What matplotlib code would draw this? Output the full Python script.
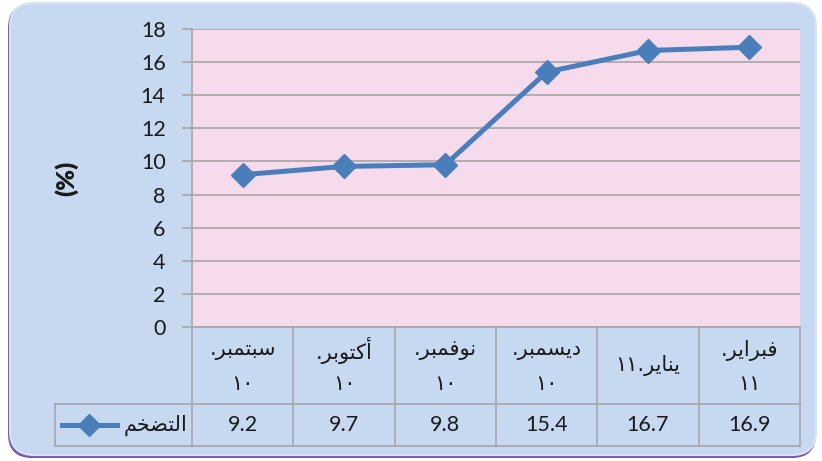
import matplotlib
matplotlib.use('Agg')
import matplotlib.pyplot as plt
from matplotlib.patches import FancyBboxPatch
from matplotlib.transforms import blended_transform_factory

# Arabic labels written in shaped presentation forms (visual order), since
# matplotlib does no Arabic shaping itself.
month_names = [
    "\uFEAE\uFE92\uFEE4\uFE98\uFE92\uFEB3",   # سبتمبر
    "\uFEAE\uFE91\uFEEE\uFE98\uFEDB\uFE83",   # أكتوبر
    "\uFEAE\uFE92\uFEE4\uFED3\uFEEE\uFEE7",   # نوفمبر
    "\uFEAE\uFE92\uFEE4\uFEB4\uFEF3\uFEA9",   # ديسمبر
    "\uFEAE\uFEF3\uFE8E\uFEE8\uFEF3",         # يناير
    "\uFEAE\uFEF3\uFE8D\uFEAE\uFE92\uFED3",   # فبراير
]
month_years = ["١٠", "١٠", "١٠", "١٠", "١١", "١١"]
values = [9.2, 9.7, 9.8, 15.4, 16.7, 16.9]
value_labels = ["9.2", "9.7", "9.8", "15.4", "16.7", "16.9"]
series_name = "\uFEE2\uFEA8\uFEC0\uFE98\uFEDF\uFE8D"  # التضخم
y_ticks = [0, 2, 4, 6, 8, 10, 12, 14, 16, 18]
y_label = "(%)"

W, H = 822, 461
LATIN = ['Lato', 'DejaVu Sans']
ARAB = ['DejaVu Sans']
BLUE = '#4A7EBB'
GRID = '#A6A6A6'
TXT = '#1A1A1A'

fig = plt.figure(figsize=(W / 100, H / 100), dpi=100)
fig.patch.set_facecolor('white')

# background panel
bg = fig.add_axes([0, 0, 1, 1])
bg.set_xlim(0, W)
bg.set_ylim(H, 0)
bg.axis('off')
bg.add_patch(FancyBboxPatch((8, 4), 808, 454, boxstyle='round,pad=0,rounding_size=24',
                            fc='#7B55B5', ec='none'))
bg.add_patch(FancyBboxPatch((10, 3), 806, 452, boxstyle='round,pad=0,rounding_size=24',
                            fc='#C6D9F1', ec='#D8E4F3', lw=1.5))

# plot area
L, R, T, B = 192, 800, 29, 327
ax = fig.add_axes([L / W, 1 - B / H, (R - L) / W, (B - T) / H])
ax.set_facecolor('#F5DBEC')
ax.set_xlim(-0.5, 5.5)
ax.set_ylim(0, 18)
ax.set_yticks(y_ticks)
ax.set_yticklabels([str(t) for t in y_ticks], family=LATIN, fontsize=15.5, color=TXT)
ax.set_xticks([])
ax.grid(axis='y', color=GRID, lw=1.2)
ax.set_axisbelow(True)
for s in ['top', 'right']:
    ax.spines[s].set_visible(False)
for s in ['left', 'bottom']:
    ax.spines[s].set_color(GRID)
    ax.spines[s].set_linewidth(1.2)
ax.tick_params(axis='y', length=7, width=1.2, color=GRID, pad=12)
ax.plot(range(len(values)), values, color=BLUE, lw=3.6, marker='D', ms=12.5,
        markeredgecolor=BLUE, markerfacecolor=BLUE, zorder=5, clip_on=False)

fig.text(66 / W, 1 - 178 / H, y_label, rotation=90, fontsize=18, fontweight='heavy',
         family=LATIN, ha='center', va='center', color=TXT)

# data table below the plot
tr = blended_transform_factory(ax.transData, ax.transAxes)
h_px = B - T
row1 = -(404 - B) / h_px
row2 = -(446 - B) / h_px
px_per_unit = (R - L) / 6
leg_left = -0.5 - (L - 55) / px_per_unit

lk = dict(color=GRID, lw=1.2, transform=tr, clip_on=False)
for k in range(7):
    ax.plot([-0.5 + k, -0.5 + k], [0, row2], **lk)
ax.plot([leg_left, 5.5], [row1, row1], **lk)
ax.plot([leg_left, 5.5], [row2, row2], **lk)
ax.plot([leg_left, leg_left], [row1, row2], **lk)

AFS = 15
for i in range(len(values)):
    if i == 4:
        ax.text(i, row1 / 2, month_years[i] + "." + month_names[i], transform=tr,
                ha='center', va='center', fontsize=AFS, family=ARAB, color=TXT)
    else:
        ax.text(i, row1 / 2 + 0.052, "." + month_names[i], transform=tr,
                ha='center', va='center', fontsize=AFS, family=ARAB, color=TXT)
        ax.text(i, row1 / 2 - 0.062, month_years[i], transform=tr,
                ha='center', va='center', fontsize=AFS, family=ARAB, color=TXT)
    ax.text(i, (row1 + row2) / 2, value_labels[i], transform=tr,
            ha='center', va='center', fontsize=15.5, family=LATIN, color=TXT)

# legend key in the table
ly = (404 + 446) / 2
bg.plot([62, 117], [ly, ly], color=BLUE, lw=3.6, zorder=10)
bg.plot([89], [ly], marker='D', ms=11, color=BLUE, zorder=11)
bg.text(187, ly, series_name, ha='right', va='center', fontsize=AFS, family=ARAB,
        color=TXT, zorder=11)

fig.savefig('out.png', dpi=100, facecolor='white')
